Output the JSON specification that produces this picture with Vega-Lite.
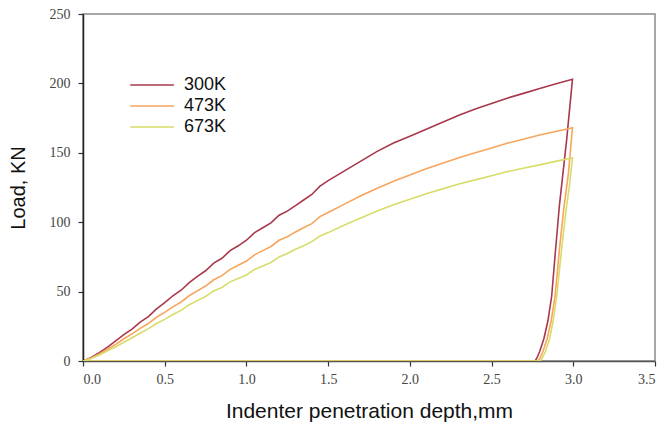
{
  "$schema": "https://vega.github.io/schema/vega-lite/v6.json",
  "autosize": "none",
  "width": 572,
  "height": 347,
  "padding": {"left": 83, "top": 14, "right": 9, "bottom": 64},
  "background": "white",
  "config": {
    "view": {"stroke": "#8a8a8a", "strokeWidth": 1.5},
    "axis": {"grid": false}
  },
  "data": {
    "values": [
      {"s":"300K","i":0,"x":0,"y":0},{"s":"300K","i":1,"x":0.05,"y":2.5},{"s":"300K","i":2,"x":0.1,"y":6},{"s":"300K","i":3,"x":0.15,"y":10},{"s":"300K","i":4,"x":0.2,"y":14.5},{"s":"300K","i":5,"x":0.25,"y":19},{"s":"300K","i":6,"x":0.3,"y":23},{"s":"300K","i":7,"x":0.35,"y":28},{"s":"300K","i":8,"x":0.4,"y":32},{"s":"300K","i":9,"x":0.45,"y":37.5},{"s":"300K","i":10,"x":0.5,"y":42},{"s":"300K","i":11,"x":0.55,"y":47},{"s":"300K","i":12,"x":0.6,"y":51},{"s":"300K","i":13,"x":0.65,"y":56.5},{"s":"300K","i":14,"x":0.7,"y":61},{"s":"300K","i":15,"x":0.75,"y":65},{"s":"300K","i":16,"x":0.8,"y":70.5},{"s":"300K","i":17,"x":0.85,"y":74},{"s":"300K","i":18,"x":0.9,"y":79.5},{"s":"300K","i":19,"x":0.95,"y":83},{"s":"300K","i":20,"x":1.0,"y":87},{"s":"300K","i":21,"x":1.05,"y":92.5},{"s":"300K","i":22,"x":1.1,"y":96},{"s":"300K","i":23,"x":1.15,"y":99.5},{"s":"300K","i":24,"x":1.2,"y":105},{"s":"300K","i":25,"x":1.25,"y":108},{"s":"300K","i":26,"x":1.3,"y":112},{"s":"300K","i":27,"x":1.35,"y":116},{"s":"300K","i":28,"x":1.4,"y":120},{"s":"300K","i":29,"x":1.45,"y":126},{"s":"300K","i":30,"x":1.5,"y":130},{"s":"300K","i":31,"x":1.6,"y":137},{"s":"300K","i":32,"x":1.7,"y":144},{"s":"300K","i":33,"x":1.8,"y":151},{"s":"300K","i":34,"x":1.9,"y":157},{"s":"300K","i":35,"x":2.0,"y":162},{"s":"300K","i":36,"x":2.1,"y":167},{"s":"300K","i":37,"x":2.2,"y":172},{"s":"300K","i":38,"x":2.3,"y":177},{"s":"300K","i":39,"x":2.4,"y":181.5},{"s":"300K","i":40,"x":2.5,"y":185.5},{"s":"300K","i":41,"x":2.6,"y":189.5},{"s":"300K","i":42,"x":2.7,"y":193},{"s":"300K","i":43,"x":2.8,"y":196.5},{"s":"300K","i":44,"x":2.9,"y":200},{"s":"300K","i":45,"x":2.995,"y":203},
      {"s":"300K","i":46,"x":2.96,"y":160},{"s":"300K","i":47,"x":2.915,"y":112},{"s":"300K","i":48,"x":2.89,"y":78},{"s":"300K","i":49,"x":2.868,"y":47},{"s":"300K","i":50,"x":2.845,"y":29},{"s":"300K","i":51,"x":2.82,"y":16},{"s":"300K","i":52,"x":2.795,"y":7},{"s":"300K","i":53,"x":2.777,"y":2},{"s":"300K","i":54,"x":2.766,"y":0},{"s":"300K","i":55,"x":0,"y":0},
      {"s":"473K","i":0,"x":0,"y":0},{"s":"473K","i":1,"x":0.05,"y":2.2},{"s":"473K","i":2,"x":0.1,"y":5},{"s":"473K","i":3,"x":0.15,"y":8.5},{"s":"473K","i":4,"x":0.2,"y":12},{"s":"473K","i":5,"x":0.25,"y":16},{"s":"473K","i":6,"x":0.3,"y":19.5},{"s":"473K","i":7,"x":0.35,"y":23.5},{"s":"473K","i":8,"x":0.4,"y":27},{"s":"473K","i":9,"x":0.45,"y":31.5},{"s":"473K","i":10,"x":0.5,"y":35},{"s":"473K","i":11,"x":0.55,"y":39},{"s":"473K","i":12,"x":0.6,"y":42.5},{"s":"473K","i":13,"x":0.65,"y":47},{"s":"473K","i":14,"x":0.7,"y":50.5},{"s":"473K","i":15,"x":0.75,"y":54},{"s":"473K","i":16,"x":0.8,"y":58.5},{"s":"473K","i":17,"x":0.85,"y":61.5},{"s":"473K","i":18,"x":0.9,"y":66},{"s":"473K","i":19,"x":0.95,"y":69},{"s":"473K","i":20,"x":1.0,"y":72},{"s":"473K","i":21,"x":1.05,"y":76.5},{"s":"473K","i":22,"x":1.1,"y":79.5},{"s":"473K","i":23,"x":1.15,"y":82.5},{"s":"473K","i":24,"x":1.2,"y":87},{"s":"473K","i":25,"x":1.25,"y":89.5},{"s":"473K","i":26,"x":1.3,"y":93},{"s":"473K","i":27,"x":1.35,"y":96},{"s":"473K","i":28,"x":1.4,"y":99},{"s":"473K","i":29,"x":1.45,"y":104},{"s":"473K","i":30,"x":1.5,"y":107},{"s":"473K","i":31,"x":1.6,"y":113},{"s":"473K","i":32,"x":1.7,"y":119},{"s":"473K","i":33,"x":1.8,"y":124.5},{"s":"473K","i":34,"x":1.9,"y":129.5},{"s":"473K","i":35,"x":2.0,"y":134},{"s":"473K","i":36,"x":2.1,"y":138.5},{"s":"473K","i":37,"x":2.2,"y":142.5},{"s":"473K","i":38,"x":2.3,"y":146.5},{"s":"473K","i":39,"x":2.4,"y":150},{"s":"473K","i":40,"x":2.5,"y":153.5},{"s":"473K","i":41,"x":2.6,"y":157},{"s":"473K","i":42,"x":2.7,"y":160},{"s":"473K","i":43,"x":2.8,"y":163},{"s":"473K","i":44,"x":2.9,"y":165.5},{"s":"473K","i":45,"x":2.995,"y":168},
      {"s":"473K","i":46,"x":2.97,"y":135},{"s":"473K","i":47,"x":2.94,"y":108},{"s":"473K","i":48,"x":2.915,"y":80},{"s":"473K","i":49,"x":2.889,"y":47},{"s":"473K","i":50,"x":2.865,"y":29},{"s":"473K","i":51,"x":2.84,"y":16},{"s":"473K","i":52,"x":2.815,"y":7},{"s":"473K","i":53,"x":2.796,"y":2},{"s":"473K","i":54,"x":2.785,"y":0},{"s":"473K","i":55,"x":0,"y":0},
      {"s":"673K","i":0,"x":0,"y":0},{"s":"673K","i":1,"x":0.05,"y":1.8},{"s":"673K","i":2,"x":0.1,"y":4.3},{"s":"673K","i":3,"x":0.15,"y":7.3},{"s":"673K","i":4,"x":0.2,"y":10.3},{"s":"673K","i":5,"x":0.25,"y":13.5},{"s":"673K","i":6,"x":0.3,"y":16.8},{"s":"673K","i":7,"x":0.35,"y":20},{"s":"673K","i":8,"x":0.4,"y":23.3},{"s":"673K","i":9,"x":0.45,"y":27},{"s":"673K","i":10,"x":0.5,"y":30},{"s":"673K","i":11,"x":0.55,"y":33.5},{"s":"673K","i":12,"x":0.6,"y":36.5},{"s":"673K","i":13,"x":0.65,"y":40.5},{"s":"673K","i":14,"x":0.7,"y":43.5},{"s":"673K","i":15,"x":0.75,"y":46.5},{"s":"673K","i":16,"x":0.8,"y":50.5},{"s":"673K","i":17,"x":0.85,"y":53},{"s":"673K","i":18,"x":0.9,"y":57},{"s":"673K","i":19,"x":0.95,"y":59.5},{"s":"673K","i":20,"x":1.0,"y":62},{"s":"673K","i":21,"x":1.05,"y":66},{"s":"673K","i":22,"x":1.1,"y":68.5},{"s":"673K","i":23,"x":1.15,"y":71},{"s":"673K","i":24,"x":1.2,"y":75},{"s":"673K","i":25,"x":1.25,"y":77.5},{"s":"673K","i":26,"x":1.3,"y":80.5},{"s":"673K","i":27,"x":1.35,"y":83},{"s":"673K","i":28,"x":1.4,"y":86},{"s":"673K","i":29,"x":1.45,"y":90},{"s":"673K","i":30,"x":1.5,"y":92.5},{"s":"673K","i":31,"x":1.6,"y":98},{"s":"673K","i":32,"x":1.7,"y":103},{"s":"673K","i":33,"x":1.8,"y":108},{"s":"673K","i":34,"x":1.9,"y":112.5},{"s":"673K","i":35,"x":2.0,"y":116.5},{"s":"673K","i":36,"x":2.1,"y":120.5},{"s":"673K","i":37,"x":2.2,"y":124},{"s":"673K","i":38,"x":2.3,"y":127.5},{"s":"673K","i":39,"x":2.4,"y":130.5},{"s":"673K","i":40,"x":2.5,"y":133.5},{"s":"673K","i":41,"x":2.6,"y":136.5},{"s":"673K","i":42,"x":2.7,"y":139},{"s":"673K","i":43,"x":2.8,"y":141.5},{"s":"673K","i":44,"x":2.9,"y":144},{"s":"673K","i":45,"x":2.995,"y":146.5},
      {"s":"673K","i":46,"x":2.975,"y":125},{"s":"673K","i":47,"x":2.955,"y":108},{"s":"673K","i":48,"x":2.928,"y":80},{"s":"673K","i":49,"x":2.899,"y":47},{"s":"673K","i":50,"x":2.877,"y":29},{"s":"673K","i":51,"x":2.855,"y":16},{"s":"673K","i":52,"x":2.83,"y":7},{"s":"673K","i":53,"x":2.809,"y":2},{"s":"673K","i":54,"x":2.797,"y":0},{"s":"673K","i":55,"x":0,"y":0}
    ]
  },
  "mark": {"type": "line", "strokeWidth": 1.6, "clip": true},
  "encoding": {
    "x": {
      "field": "x", "type": "quantitative",
      "scale": {"domain": [0, 3.5], "nice": false, "zero": false},
      "axis": {
        "values": [0, 0.5, 1, 1.5, 2, 2.5, 3, 3.5],
        "format": ".1f",
        "title": "Indenter penetration depth,mm",
        "titleFont": "Liberation Sans", "titleFontSize": 21, "titleFontWeight": "normal", "titleColor": "#111",
        "titlePadding": 14,
        "labelFont": "serif", "labelFontSize": 14, "labelColor": "#444", "labelPadding": 6,
        "domainColor": "#555", "domainWidth": 1.5, "tickColor": "#333", "tickSize": 5, "tickWidth": 1.2
      }
    },
    "y": {
      "field": "y", "type": "quantitative",
      "scale": {"domain": [0, 250], "nice": false},
      "axis": {
        "values": [0, 50, 100, 150, 200, 250],
        "title": "Load, KN",
        "titleFont": "Liberation Sans", "titleFontSize": 20, "titleFontWeight": "normal", "titleColor": "#111",
        "titlePadding": 21,
        "labelFont": "serif", "labelFontSize": 14, "labelColor": "#444", "labelPadding": 8,
        "domainColor": "#222", "domainWidth": 1.5, "tickColor": "#333", "tickSize": 5, "tickWidth": 1.2
      }
    },
    "color": {
      "field": "s", "type": "nominal",
      "scale": {"domain": ["300K", "473K", "673K"], "range": ["#a8384c", "#f7a55c", "#d8dc68"]},
      "legend": {
        "orient": "none", "legendX": 68, "legendY": 59,
        "title": null,
        "symbolType": "M-3,0H1", "symbolSize": 475, "symbolStrokeWidth": 1.6, "symbolFillColor": "transparent",
        "labelFont": "Liberation Sans", "labelFontSize": 18, "labelColor": "#111",
        "rowPadding": 0, "labelOffset": 9
      }
    },
    "order": {"field": "i", "type": "quantitative"}
  }
}
